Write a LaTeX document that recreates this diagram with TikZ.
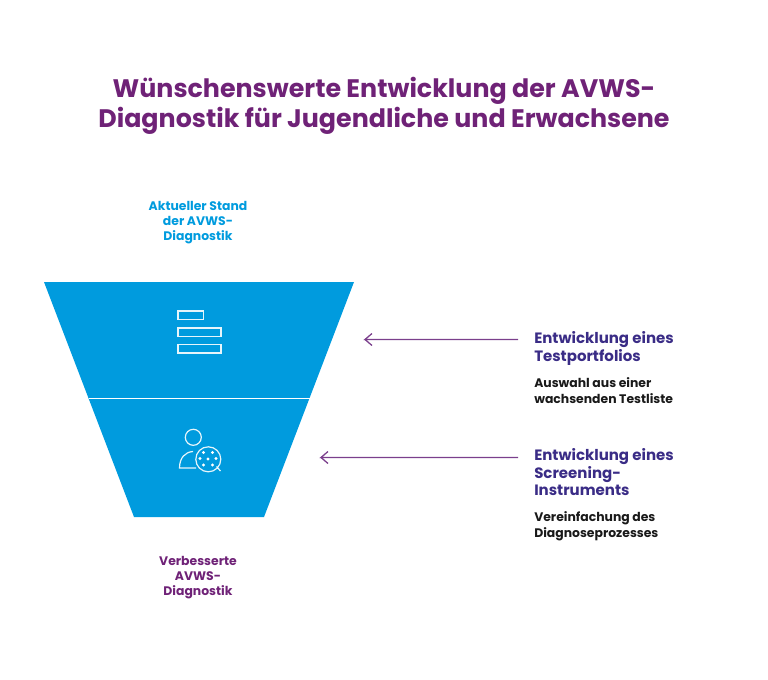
\documentclass[tikz,border=0pt]{standalone}
\usepackage{fontspec}
\usepackage{xcolor}
\setmainfont{Poppins}
\definecolor{titlepurple}{HTML}{6F2277}
\definecolor{funnelblue}{HTML}{009BDE}
\definecolor{headblue}{HTML}{3A2C86}
\definecolor{arrowpurple}{HTML}{7B3F8C}
\tikzset{
  headtext/.style={inner sep=0pt, anchor=north west, align=left, text=headblue, font=\fontsize{11.25pt}{13.1pt}\selectfont\bfseries},
  subtext/.style={inner sep=0pt, anchor=north west, align=left, text=black!90, font=\fontsize{9.3pt}{11.9pt}\selectfont\bfseries},
  sidelabel/.style={inner sep=0pt, align=center, font=\fontsize{9.3pt}{11.2pt}\selectfont\bfseries},
  icon/.style={draw=white, line width=0.9pt, opacity=0.9},
  flowarrow/.style={draw=arrowpurple, line width=0.95pt},
}
\begin{document}
\begin{tikzpicture}[x=0.75pt, y=-0.75pt]
\useasboundingbox (0,0) rectangle (768,679);
\node[inner sep=0pt, align=center, text=titlepurple, font=\fontsize{19pt}{22.5pt}\selectfont\bfseries] (title) at (384,105.5) {Wünschenswerte Entwicklung der AVWS-\\Diagnostik für Jugendliche und Erwachsene};
\node[sidelabel, text=funnelblue] (current) at (198,223) {Aktueller Stand\\der AVWS-\\Diagnostik};
\node[sidelabel, text=titlepurple] (improved) at (198,578) {Verbesserte\\AVWS-\\Diagnostik};
% funnel
\fill[funnelblue] (44,282) -- (354,282) -- (264,517) -- (134,517) -- cycle;
\draw[white, line width=1.1pt] (88.5,398.5) -- (309.5,398.5);
% list icon
\draw[icon] (178,311) rectangle (203.5,319.5);
\draw[icon] (178,328) rectangle (221,336.5);
\draw[icon] (178,344.5) rectangle (221,353);
% person icon
\draw[icon] (193.3,437.3) circle (8);
\draw[icon] (196,468) -- (179.5,468) .. controls (179.5,458) and (185,452) .. (193,451.5);
\draw[icon] (208.3,459.3) circle (12.5);
\draw[icon] (216.5,466.5) -- (220.5,471);
\foreach \px/\py in {203.5/452.5, 212.5/452.5, 200/458.5, 208/459, 216/458.5, 203.5/465, 212.5/465}
  \fill[white] (\px,\py) circle (1.6);
% right side
\node[headtext] (devtest) at (534,331.5) {Entwicklung eines\\Testportfolios};
\node[subtext] (subtest) at (534,377) {Auswahl aus einer\\wachsenden Testliste};
\node[headtext] (devscreen) at (534,448.5) {Entwicklung eines\\Screening-\\Instruments};
\node[subtext] (subscreen) at (534,511) {Vereinfachung des\\Diagnoseprozesses};
\coordinate (tiptest) at (365,339.5);
\coordinate (tipscreen) at (321,457.5);
\draw[flowarrow] (devtest.west |- tiptest) ++(-16,0) -- (tiptest) -- ++(7,-6) (tiptest) -- ++(7,6);
\draw[flowarrow] (devscreen.west |- tipscreen) ++(-16,0) -- (tipscreen) -- ++(7,-6) (tipscreen) -- ++(7,6);
\end{tikzpicture}
\end{document}
